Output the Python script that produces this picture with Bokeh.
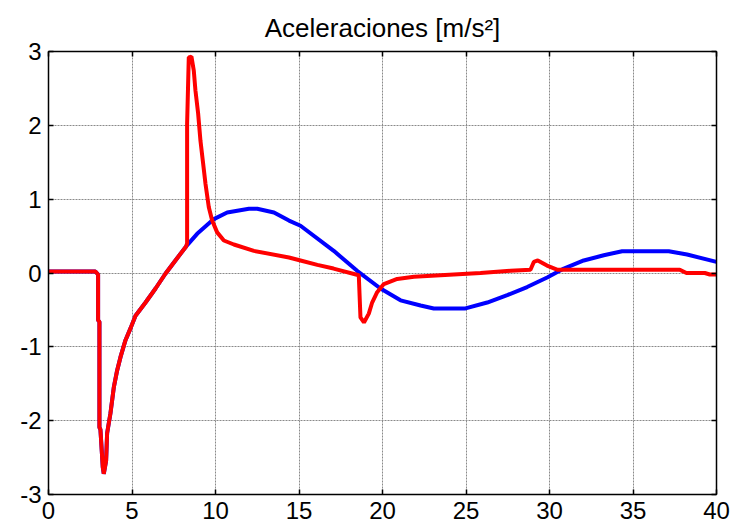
from bokeh.plotting import figure
from bokeh.models import Range1d, LinearAxis, FixedTicker
from bokeh.embed import file_html
from bokeh.resources import INLINE

# Acceleration traces, time in seconds, acceleration in m/s^2
t_blue = [0.0, 2.81, 2.97, 2.97, 3.05, 3.05, 3.11, 3.25, 3.31, 3.45, 3.51, 3.71,
          3.91, 4.11, 4.31, 4.61, 4.91, 5.21, 5.81, 6.41, 7.0, 7.6, 8.24,
          8.9, 9.9, 10.7, 12.0, 12.5, 13.5, 14.4, 15.09, 17.08, 18.48, 19.88,
          21.08, 22.28, 23.07, 24.97, 26.27, 27.47, 28.66, 29.86, 30.86, 32.05,
          33.25, 34.35, 37.14, 38.24, 40.0]
a_blue = [0.02, 0.02, -0.02, -0.64, -0.66, -2.09, -2.12, -2.63, -2.72, -2.54, -2.17, -1.90,
          -1.55, -1.32, -1.14, -0.91, -0.75, -0.58, -0.40, -0.21, -0.01, 0.17, 0.36,
          0.53, 0.73, 0.82, 0.87, 0.87, 0.82, 0.71, 0.64, 0.30, 0.03, -0.21,
          -0.37, -0.44, -0.48, -0.48, -0.40, -0.30, -0.19, -0.06, 0.06, 0.17,
          0.24, 0.295, 0.295, 0.25, 0.15]

t_red = [0.0, 2.81, 2.97, 2.97, 3.05, 3.05, 3.11, 3.25, 3.31, 3.45, 3.51, 3.71,
         3.91, 4.11, 4.31, 4.61, 4.91, 5.21, 5.81, 6.41, 7.0, 7.6, 8.24,
         8.30, 8.30, 8.40, 8.56, 8.70, 8.80, 8.96, 9.10, 9.24, 9.40, 9.60, 9.80,
         10.1, 10.5, 11.1, 12.3, 14.4, 15.09, 16.1, 17.07, 18.58, 18.68, 18.89,
         19.18, 19.38, 19.68, 20.08, 20.88, 21.88, 24.27, 25.87, 27.66, 28.86,
         29.06, 29.3, 29.85, 30.45, 37.8, 38.2, 39.3, 39.6, 40.0]
a_red = [0.02, 0.02, -0.02, -0.64, -0.66, -2.09, -2.12, -2.63, -2.72, -2.54, -2.17, -1.90,
         -1.55, -1.32, -1.14, -0.91, -0.75, -0.58, -0.40, -0.21, -0.01, 0.17, 0.36,
         0.40, 2.02, 2.92, 2.93, 2.74, 2.47, 2.16, 1.79, 1.52, 1.21, 0.89, 0.71,
         0.55, 0.44, 0.386, 0.30, 0.21, 0.17, 0.11, 0.06, -0.03, -0.60, -0.67,
         -0.55, -0.40, -0.26, -0.15, -0.08, -0.05, -0.02, 0.0, 0.03, 0.045,
         0.15, 0.17, 0.10, 0.045, 0.045, 0.0, 0.0, -0.02, -0.02]

x_ticks = [0, 5, 10, 15, 20, 25, 30, 35, 40]
x_tick_labels = ["0", "5", "10", "15", "20", "25", "30", "35", "40"]
y_ticks = [-3, -2, -1, 0, 1, 2, 3]
y_tick_labels = ["-3", "-2", "-1", "0", "1", "2", "3"]

FONT = "Liberation Sans"

p = figure(width=741, height=529, x_range=Range1d(0, 40), y_range=Range1d(-3, 3),
           output_backend="svg", toolbar_location=None,
           min_border_left=48, min_border_right=25, min_border_top=51, min_border_bottom=35,
           title="Aceleraciones [m/s²]")

p.title.text_font = FONT
p.title.text_font_size = "26px"
p.title.text_font_style = "normal"
p.title.align = "center"
p.title.text_color = "black"
p.title.standoff = 17

p.outline_line_color = "black"
p.background_fill_color = "white"
p.border_fill_color = "white"


def style_axis(ax, ticks, labels=None):
    ax.ticker = FixedTicker(ticks=ticks)
    ax.major_tick_in = 5
    ax.major_tick_out = 0
    ax.minor_tick_in = 0
    ax.minor_tick_out = 0
    ax.axis_line_color = "black"
    ax.axis_line_width = 1.5
    ax.major_tick_line_color = "black"
    ax.major_tick_line_width = 1.5
    if labels is not None:
        ax.major_label_overrides = dict(zip(ticks, labels))
        ax.major_label_text_font = FONT
        ax.major_label_text_font_size = "24px"
        ax.major_label_text_color = "black"
    else:
        ax.major_label_text_font_size = "0px"
        ax.major_label_standoff = 0


style_axis(p.xaxis[0], x_ticks, x_tick_labels)
p.xaxis[0].major_label_standoff = 7
style_axis(p.yaxis[0], y_ticks, y_tick_labels)
p.yaxis[0].major_label_standoff = 7

# box axes on top/right carry tick marks only
top_axis = LinearAxis()
style_axis(top_axis, x_ticks)
p.add_layout(top_axis, "above")
right_axis = LinearAxis()
style_axis(right_axis, y_ticks)
p.add_layout(right_axis, "right")

p.xgrid.ticker = FixedTicker(ticks=x_ticks)
p.ygrid.ticker = FixedTicker(ticks=y_ticks)
for g in (p.xgrid[0], p.ygrid[0]):
    g.grid_line_color = "#8a8a8a"
    g.grid_line_dash = "2 1"
    g.grid_line_width = 1

p.line(t_blue, a_blue, line_color="#0000ff", line_width=4)
p.line(t_red, a_red, line_color="#ff0000", line_width=4)

open("out.html", "w").write(file_html(p, INLINE))
